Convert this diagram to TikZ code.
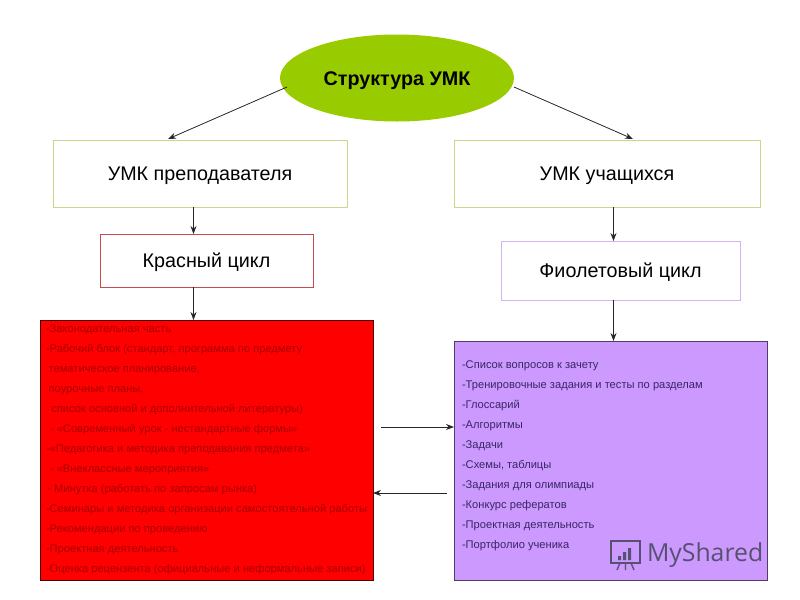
\documentclass[tikz,border=0pt]{standalone}
\usepackage{fontspec}
\usetikzlibrary{shapes.geometric,arrows.meta}
\setmainfont{Liberation Sans}
\newfontfamily\markfont{Open Sans}
\definecolor{leaf}{HTML}{99CC00}
\definecolor{paleleaf}{HTML}{C6D98A}
\definecolor{lilac}{HTML}{CC99FF}
\definecolor{palelilac}{HTML}{D4B4F0}
\definecolor{darkred}{HTML}{A80000}
\definecolor{inkblue}{HTML}{3A2468}
\definecolor{markgray}{HTML}{565170}
\begin{document}
\begin{tikzpicture}[
   x=0.75pt, y=-0.75pt,
   every node/.style={inner sep=0pt, outer sep=0pt},
   linkarrow/.style={draw=black!85, line width=0.6pt, -{Stealth[length=6pt,width=4.5pt]}},
   headbox/.style={draw=paleleaf, line width=0.7pt, fill=white, minimum height=50.25pt, text height=11pt, text depth=0pt, font=\fontsize{14.8}{17}\selectfont},
   cyclebox/.style={fill=white, line width=0.6pt, text height=11pt, text depth=0pt, font=\fontsize{14.8}{17}\selectfont},
   listbox/.style={draw=black!70!red, line width=0.6pt},
   listtext/.style={anchor=north west, align=left, font=\fontsize{8.35}{15}\selectfont}]

\useasboundingbox (0,0) rectangle (800,600);

\node[ellipse, fill=leaf, minimum width=175.5pt, minimum height=65.25pt, text height=11pt, text depth=0pt, font=\bfseries\fontsize{14.8}{17}\selectfont] (struct) at (397,78) {Структура УМК};

\node[headbox, minimum width=220.5pt] (prep) at (200,173.5) {УМК преподавателя};
\node[headbox, minimum width=229.5pt] (uch) at (607,173.5) {УМК учащихся};

\node[cyclebox, draw=darkred!70!white, minimum width=159.75pt, minimum height=39.75pt] (krasn) at (206.5,260.5) {Красный цикл};
\node[cyclebox, draw=palelilac, minimum width=179.25pt, minimum height=44.25pt] (fiol) at (620.5,270.5) {Фиолетовый цикл};

\node[listbox, fill=red, minimum width=249.75pt, minimum height=195pt] (redbox) at (206.5,450) {};
\node[listbox, draw=black!60!lilac, fill=lilac, minimum width=234.75pt, minimum height=179.25pt] (violbox) at (610.5,460.5) {};

\node[listtext, text=darkred] (redlist) at (46,325) {%
-Законодательная часть\\
-Рабочий блок (стандарт, программа по предмету\\
\hspace*{2pt}тематическое планирование,\\
\hspace*{2pt}поурочные планы,\\
\hspace*{4pt}список основной и дополнительной литературы)\\
\hspace*{3pt}- «Современный урок - нестандартные формы»\\
-«Педагогика и методика преподавания предмета»\\
\hspace*{3pt}- «Внеклассные мероприятия»\\
\hspace*{1pt}- Минутка (работать по запросам рынка)\\
-Семинары и методика организации самостоятельной работы\\
-Рекомендации по проведению\\
-Проектная деятельность\\
-Оценка рецензента (официальные и неформальные записи)};

\node[listtext, text=inkblue] (viollist) at (462,361) {%
-Список вопросов к зачету\\
-Тренировочные задания и тесты по разделам\\
-Глоссарий\\
-Алгоритмы\\
-Задачи\\
-Схемы, таблицы\\
-Задания для олимпиады\\
-Конкурс рефератов\\
-Проектная деятельность\\
-Портфолио ученика};

% watermark
\node[anchor=west, text=markgray, font=\markfont\fontsize{18.6}{22}\selectfont] (mark) at (647,555) {MyShared};
\draw[markgray, line width=1.2pt] (611,541) rectangle (640,563);
\fill[markgray] (618,556) rectangle (621,560) (623,552) rectangle (626,560) (628,548) rectangle (631,560);
\draw[markgray, line width=1pt] (620,563) -- (617,570) (625.5,563) -- (625.5,570) (631,563) -- (634,570);

% free ends of the links
\coordinate (sl) at (287,87);
\coordinate (sr) at (514,87);
\coordinate (pl) at (168,139);
\coordinate (ur) at (633,139);
\coordinate (ra) at (381,427);
\coordinate (la) at (447,493);
\coordinate (lx) at (193.5,0);
\coordinate (rx) at (613.5,0);

\draw[linkarrow] (sl) -- (pl);
\draw[linkarrow] (sr) -- (ur);
\draw[linkarrow] (prep.south -| lx) -- (krasn.north -| lx);
\draw[linkarrow] (krasn.south -| lx) -- (redbox.north -| lx);
\draw[linkarrow] (uch.south -| rx) -- (fiol.north -| rx);
\draw[linkarrow] (fiol.south -| rx) -- (violbox.north -| rx);
\draw[linkarrow] (ra) -- (ra -| violbox.west);
\draw[linkarrow] (la) -- (la -| redbox.east);

\end{tikzpicture}
\end{document}
